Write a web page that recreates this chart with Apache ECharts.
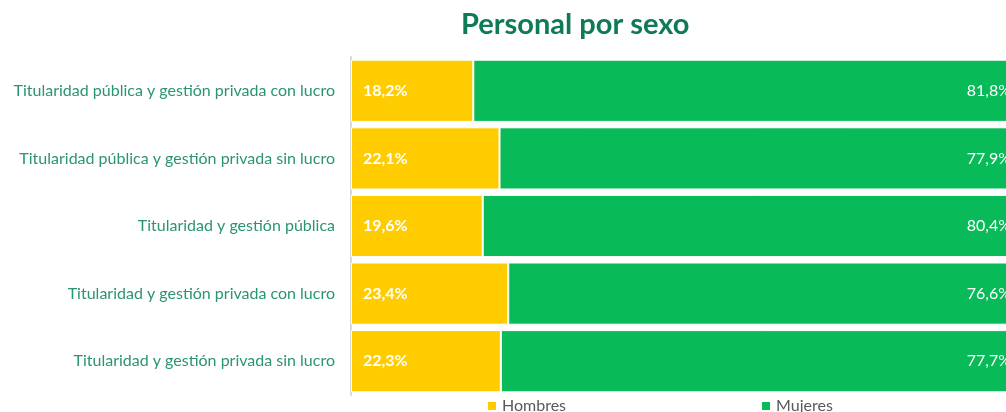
<!DOCTYPE html>
<html>
<head>
<meta charset="utf-8">
<script src="https://cdn.jsdelivr.net/npm/echarts@6/dist/echarts.min.js"></script>
<style>
  html, body { margin: 0; padding: 0; background: #fff; overflow: hidden; }
  #wrap { width: 1006px; height: 412px; overflow: hidden; }
  /* the plot runs past the right edge of the frame */
  #chart { width: 1023px; height: 412px; }
</style>
</head>
<body>
<div id="wrap"><div id="chart"></div></div>
<script>
// Categories, top to bottom
const categories = [
  'Titularidad pública y gestión privada con lucro',
  'Titularidad pública y gestión privada sin lucro',
  'Titularidad y gestión pública',
  'Titularidad y gestión privada con lucro',
  'Titularidad y gestión privada sin lucro'
];
// Share of staff by sex (%)
const hombres = [18.2, 22.1, 19.6, 23.4, 22.3];
const mujeres = [81.8, 77.9, 80.4, 76.6, 77.7];

const fmt = p => p.value.toFixed(1).replace('.', ',') + '%';
const FONT = 'Lato';

const chart = echarts.init(document.getElementById('chart'), null, { renderer: 'canvas' });
chart.setOption({
  animation: false,
  title: {
    text: 'Personal por sexo',
    left: 456,
    top: 5,
    textStyle: { fontFamily: FONT, fontSize: 29, fontWeight: 'bold', color: '#0e7a57' }
  },
  legend: {
    data: ['Hombres', 'Mujeres'],
    left: 481,
    top: 393,
    itemWidth: 10,
    itemHeight: 10,
    itemGap: 194,
    icon: 'rect',
    textStyle: { fontFamily: FONT, fontSize: 16, color: '#595959' }
  },
  grid: { left: 351, top: 57, right: 0, height: 338, containLabel: false },
  xAxis: { type: 'value', min: 0, max: 100, show: false },
  yAxis: {
    type: 'category',
    data: categories,
    inverse: true,
    axisLine: { show: true, lineStyle: { color: '#d9d9d9', width: 2 } },
    axisTick: { show: false },
    axisLabel: { fontFamily: FONT, fontSize: 16, color: '#2a9474', margin: 16 }
  },
  series: [
    {
      name: 'Hombres',
      type: 'bar',
      stack: 'total',
      data: hombres,
      barCategoryGap: '8%',
      itemStyle: { color: '#ffcc00', borderColor: '#ffffff', borderWidth: 1 },
      label: {
        show: true, position: 'insideLeft', distance: 12, formatter: fmt,
        fontFamily: FONT, fontSize: 16, fontWeight: 'bold', color: '#ffffff'
      }
    },
    {
      name: 'Mujeres',
      type: 'bar',
      stack: 'total',
      data: mujeres,
      barCategoryGap: '8%',
      itemStyle: { color: '#08bb58', borderColor: '#ffffff', borderWidth: 1 },
      label: {
        show: true, position: 'insideRight', distance: 12, formatter: fmt,
        fontFamily: FONT, fontSize: 16, color: '#ffffff'
      }
    }
  ]
});
</script>
</body>
</html>
